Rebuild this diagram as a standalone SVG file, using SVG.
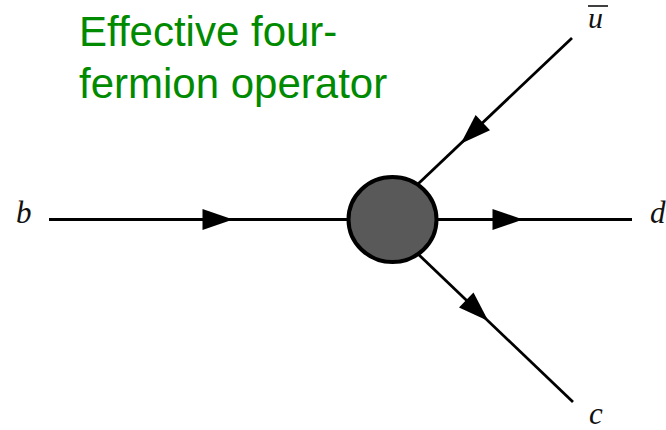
<svg xmlns="http://www.w3.org/2000/svg" width="666" height="430" viewBox="0 0 666 430">
<style>
.ln{stroke:#000;stroke-width:2.8;fill:none;stroke-linecap:butt}
.ah{fill:#000;stroke:none}
.lab{font-family:"Liberation Serif","DejaVu Serif",serif;font-style:italic;font-size:31px;fill:#111}
.title{font-family:"Liberation Sans",Arial,sans-serif;font-size:42px;fill:#008a00}
</style>
<rect width="666" height="430" fill="#fff"/>
<g id="connectors">
<line class="ln" x1="49" y1="219.5" x2="392" y2="219.5"/>
<line class="ln" x1="392" y1="219.5" x2="632" y2="219.5"/>
<line class="ln" x1="572" y1="38" x2="418" y2="184"/>
<line class="ln" x1="418" y1="254" x2="573" y2="402"/>
<polygon class="ah" points="233,219.5 202.5,209 202.5,230"/>
<polygon class="ah" points="523,219.5 492.5,209 492.5,230"/>
<polygon class="ah" points="460.7,143.7 490,130.3 475.6,115.1"/>
<polygon class="ah" points="488.3,321.1 459,307.6 473.5,292.4"/>
</g>
<g id="vertex">
<ellipse cx="392.5" cy="219.5" rx="44" ry="42.5" fill="#595959" stroke="#000" stroke-width="4"/>
</g>
<g id="label-b"><text class="lab" x="16" y="223">b</text></g>
<g id="label-d"><text class="lab" x="650" y="223">d</text></g>
<g id="label-ubar"><text class="lab" x="588" y="27.5" style="font-size:30px">u</text><line x1="588" y1="6" x2="608" y2="6" stroke="#111" stroke-width="1.6"/></g>
<g id="label-c"><text class="lab" x="589" y="424">c</text></g>
<g id="title">
<text class="title" x="79" y="46">Effective four-</text>
<text class="title" x="79" y="98">fermion operator</text>
</g>
</svg>
